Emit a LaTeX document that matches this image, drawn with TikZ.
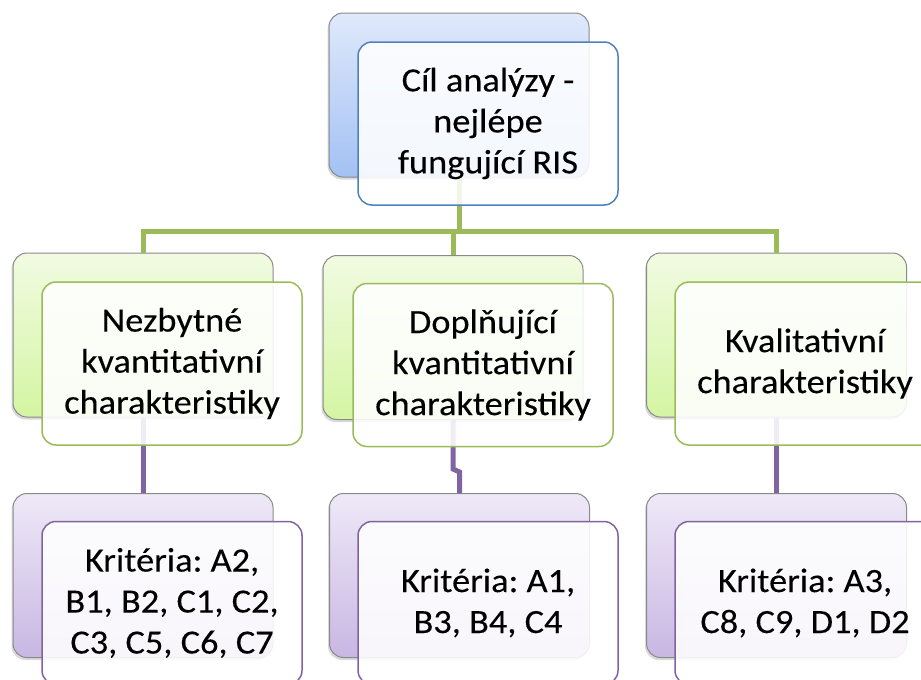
\documentclass[tikz,border=0pt]{standalone}
\usepackage{fontspec}
\setmainfont{Carlito}[FakeStretch=1.07, FakeBold=0.15]
\frenchspacing
\usetikzlibrary{shadows}
\definecolor{bluetop}{HTML}{DFE9FB}
\definecolor{bluebot}{HTML}{A3C1F4}
\definecolor{blueline}{HTML}{4F81BD}
\definecolor{greentop}{HTML}{F1FBE2}
\definecolor{greenbot}{HTML}{D4F5A2}
\definecolor{greenline}{HTML}{9BBB59}
\definecolor{purptop}{HTML}{EEE9F7}
\definecolor{purpbot}{HTML}{C8B7E3}
\definecolor{purpline}{HTML}{8064A2}
\definecolor{backline}{HTML}{8A8A8A}
\tikzset{
  backbox/.style={draw=backline, line width=1pt, rounded corners=14pt,
    minimum width=260pt, minimum height=164pt, inner sep=0pt,
    drop shadow={opacity=0.3, shadow xshift=-1.5pt, shadow yshift=-2.5pt}},
  blueback/.style={backbox, top color=bluetop, bottom color=bluebot},
  greenback/.style={backbox, top color=greentop, bottom color=greenbot},
  purpback/.style={backbox, top color=purptop, bottom color=purpbot},
  frontbox/.style={line width=1.5pt, rounded corners=14pt, fill=white,
    fill opacity=0.88, text opacity=1, minimum width=260pt, minimum height=163pt,
    inner sep=0pt, align=center, font=\fontsize{34}{41}\selectfont},
  bluefront/.style={frontbox, draw=blueline},
  greenfront/.style={frontbox, draw=greenline},
  purpfront/.style={frontbox, draw=purpline},
  greenconn/.style={draw=greenline, line width=5pt},
  purpconn/.style={draw=purpline, line width=5pt},
}
\begin{document}
\begin{tikzpicture}[x=1pt,y=-1pt]
\useasboundingbox (0,0) rectangle (921,680);
\clip (0,0) rectangle (921,680);
% back boxes
\node[blueback] (tb) at (459,95) {};
\node[greenback] (gl) at (143,335) {};
\node[greenback] (gm) at (453,337.5) {};
\node[greenback] (gr) at (776.5,335) {};
\node[purpback] (pl) at (143,575.5) {};
\node[purpback] (pm) at (459.5,575.5) {};
\node[purpback] (pr) at (776.5,575.5) {};
% connectors
\coordinate (hub) at (459,231);
\draw[greenconn] (tb.south) -- (hub);
\draw[greenconn] (gl.north) |- (hub) -| (gr.north);
\draw[greenconn] (hub) -| (gm.north);
\draw[purpconn] (gl.south) -- (pl.north);
\draw[purpconn] (gm.south) -- (gm.south |- 0,469) -- (pm.north |- 0,472) -- (pm.north);
\draw[purpconn] (gr.south) -- (pr.north);
% front boxes
\node[bluefront] (tf) at (488,123.5) {Cíl analýzy -\\nejlépe\\fungující RIS};
\node[greenfront] (glf) at (172,363.5) {Nezbytné\\kvantitativní\\charakteristiky};
\node[greenfront] (gmf) at (483,365) {Doplňující\\kvantitativní\\charakteristiky};
\node[greenfront] (grf) at (805,363.5) {Kvalitativní\\charakteristiky};
\node[purpfront] (plf) at (172,603) {Kritéria: A2,\\B1, B2, C1, C2,\\C3, C5, C6, C7};
\node[purpfront] (pmf) at (488,603) {Kritéria: A1,\\B3, B4, C4};
\node[purpfront] (prf) at (805,603) {Kritéria: A3,\\C8, C9, D1, D2};
\end{tikzpicture}
\end{document}
